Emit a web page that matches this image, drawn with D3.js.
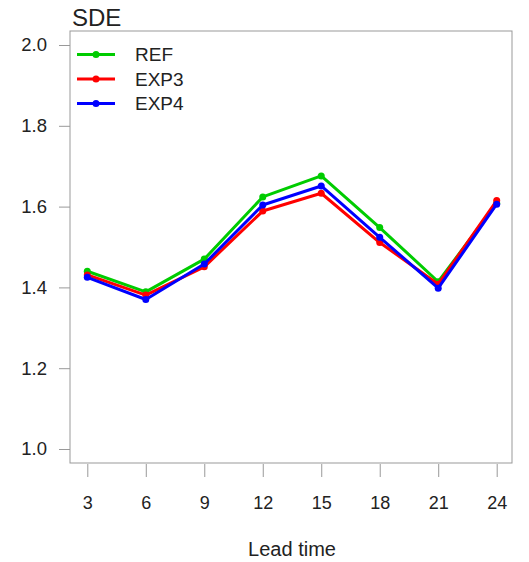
<!DOCTYPE html>
<html>
<head>
<meta charset="utf-8">
<script src="https://cdn.jsdelivr.net/npm/d3@7"></script>
<style>
  body { margin: 0; background: #fff; }
  text { font-family: "Liberation Sans", Arial, sans-serif; fill: #222; }
</style>
</head>
<body>
<svg id="chart" width="529" height="562"></svg>
<script>
// Lead times (hours) and SDE per experiment
const leadTimes = [3, 6, 9, 12, 15, 18, 21, 24];
const refValues  = [1.440, 1.389, 1.470, 1.624, 1.676, 1.548, 1.414, 1.608];
const exp3Values = [1.431, 1.381, 1.451, 1.589, 1.633, 1.511, 1.408, 1.615];
const exp4Values = [1.425, 1.370, 1.458, 1.604, 1.651, 1.524, 1.398, 1.606];
const seriesNames = ["REF", "EXP3", "EXP4"];
const seriesColors = ["#00cc00", "#ff0000", "#0000ff"];
const yTicks = [1.0, 1.2, 1.4, 1.6, 1.8, 2.0];

const series = [refValues, exp3Values, exp4Values].map((vals, i) => ({
  name: seriesNames[i], color: seriesColors[i],
  points: leadTimes.map((t, j) => ({ t, v: vals[j] }))
}));

const svg = d3.select("#chart");
const box = { left: 70, right: 512, top: 31, bottom: 463 };
const font = "Liberation Sans, Arial, sans-serif";

const x = d3.scalePoint().domain(leadTimes).range([87.3, 496.7]);
const y = d3.scaleLinear().domain([1.0, 2.0]).range([449, 45]);

// plot frame
svg.append("rect")
  .attr("x", box.left).attr("y", box.top)
  .attr("width", box.right - box.left).attr("height", box.bottom - box.top)
  .attr("fill", "none").attr("stroke", "#999").attr("stroke-width", 1);

// y axis (ticks sit outside the frame)
const yAxis = svg.append("g").attr("transform", `translate(${box.left},0)`)
  .call(d3.axisLeft(y).tickValues(yTicks).tickFormat(d3.format(".1f"))
    .tickSizeInner(11).tickSizeOuter(0).tickPadding(12));
yAxis.select(".domain").remove();
yAxis.selectAll("line").attr("stroke", "#999");
yAxis.selectAll("text").attr("font-size", 18.5).attr("fill", "#222").style("font-family", font);

// x axis
const xAxis = svg.append("g").attr("transform", `translate(0,${box.bottom + 1})`)
  .call(d3.axisBottom(x).tickSizeInner(13).tickSizeOuter(0).tickPadding(19));
xAxis.select(".domain").remove();
xAxis.selectAll("line").attr("stroke", "#999");
xAxis.selectAll("text").attr("font-size", 18).attr("fill", "#222").style("font-family", font);

// titles
svg.append("text").attr("x", 72).attr("y", 26).attr("font-size", 24).text("SDE");
svg.append("text").attr("x", 292).attr("y", 556)
  .attr("text-anchor", "middle").attr("font-size", 20).text("Lead time");

// series lines and points
const line = d3.line().x(d => x(d.t)).y(d => y(d.v));
const g = svg.append("g");
series.forEach(s => {
  g.append("path").datum(s.points).attr("d", line)
    .attr("fill", "none").attr("stroke", s.color).attr("stroke-width", 3)
    .attr("stroke-linejoin", "round");
  g.selectAll(null).data(s.points).enter().append("circle")
    .attr("cx", d => x(d.t)).attr("cy", d => y(d.v)).attr("r", 3.5)
    .attr("fill", s.color);
});

// legend
const legend = svg.append("g");
series.forEach((s, i) => {
  const ly = 54.5 + i * 24.5;
  legend.append("line").attr("x1", 77).attr("x2", 115).attr("y1", ly).attr("y2", ly)
    .attr("stroke", s.color).attr("stroke-width", 3);
  legend.append("circle").attr("cx", 96).attr("cy", ly).attr("r", 3.5).attr("fill", s.color);
  legend.append("text").attr("x", 135).attr("y", ly).attr("dy", "0.36em")
    .attr("font-size", 19).text(s.name);
});
</script>
</body>
</html>
